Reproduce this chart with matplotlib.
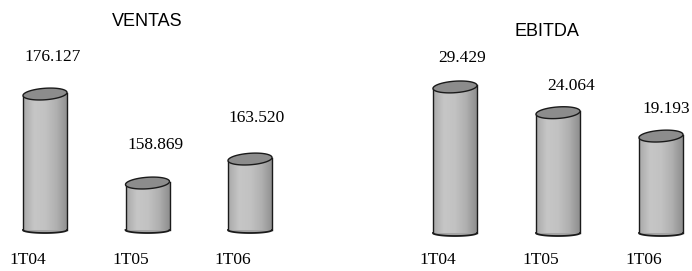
import numpy as np
import matplotlib
matplotlib.use("Agg")
import matplotlib.pyplot as plt
from matplotlib.colors import LinearSegmentedColormap

# ---- data ----
categories = ["1T04", "1T05", "1T06"]
ventas = [176.127, 158.869, 163.520]
ebitda = [29.429, 24.064, 19.193]
ventas_labels = ["176.127", "158.869", "163.520"]
ebitda_labels = ["29.429", "24.064", "19.193"]

# ---- layout (pixels) ----
W, H = 692, 271
fig = plt.figure(figsize=(W / 100, H / 100), dpi=100)
fig.patch.set_facecolor("white")

body_cmap = LinearSegmentedColormap.from_list(
    "cyl", ["#a9a9a9", "#c6c6c6", "#c2c2c2", "#b0b0b0", "#8e8e8e"])
EDGE = "#1a1a1a"
TOP = "#8c8c8c"
SERIF = ["Liberation Serif", "DejaVu Serif"]
SANS = ["Liberation Sans", "DejaVu Sans"]


def px2pt(px):
    return px * 72 / 100


def panel(left_px, vals, labels, title, title_xy, c0_px, spacing_px,
          base_row, ppu, floor, lab_off, cat_dx):
    ax = fig.add_axes([left_px / W, 0, 346 / W, 1])
    ax.axis("off")
    c0 = c0_px - left_px
    xlim = (-c0 / spacing_px, (346 - c0) / spacing_px)
    ylim = (floor - (H - base_row) / ppu, floor + base_row / ppu)
    x = np.arange(len(vals))
    bw = 44 / spacing_px
    eh = 11.5 / ppu        # top ellipse height in data units
    bh = 6 / ppu           # bottom curve height
    tilt = 3 / ppu         # rise across the top ellipse

    heights = [v - floor for v in vals]
    bars = ax.bar(x, heights, bottom=floor, width=bw, color="none",
                  edgecolor="none", zorder=2)
    grad = np.linspace(0, 1, 200).reshape(1, -1)
    t = np.linspace(0, 2 * np.pi, 200)
    tb = np.linspace(np.pi, 2 * np.pi, 100)
    for xi, v, b in zip(x, vals, bars):
        im = ax.imshow(grad, cmap=body_cmap, aspect="auto",
                       extent=[xi - bw / 2, xi + bw / 2, floor, v],
                       zorder=2, interpolation="bilinear")
        im.set_clip_path(b)
        # bottom curve
        bx = xi + bw / 2 * np.cos(tb)
        by = floor + bh / 2 * np.sin(tb)
        ax.fill(np.r_[bx, bx[::-1]], np.r_[by, np.full_like(by, floor)],
                color="#a4a4a4", zorder=2, lw=0)
        ax.plot(bx, by, color=EDGE, lw=1.3, zorder=3)
        # sides
        ax.plot([xi - bw / 2] * 2, [floor, v - tilt / 2], color=EDGE,
                lw=1.0, zorder=3)
        ax.plot([xi + bw / 2] * 2, [floor, v + tilt / 2], color=EDGE,
                lw=1.0, zorder=3)
        # top ellipse (slightly tilted)
        c = np.cos(t)
        tx = xi + bw / 2 * c
        ty = v + eh / 2 * np.sin(t) + tilt / 2 * c
        ax.fill(tx, ty, facecolor=TOP, edgecolor=EDGE, lw=1.0, zorder=4)

    for xi, v, lab, (dx, dy) in zip(x, vals, labels, lab_off):
        ax.annotate(lab, (xi, v), xytext=(px2pt(dx), px2pt(dy)),
                    textcoords="offset points", ha="center", va="center",
                    fontsize=12.5, family=SERIF, color="black")
    for xi, cat in zip(x, categories):
        ax.annotate(cat, (xi, floor), xytext=(px2pt(cat_dx), px2pt(-(260 - base_row))),
                    textcoords="offset points", ha="center", va="center",
                    fontsize=12.5, family=SERIF, color="black")
    fig.text(title_xy[0] / W, 1 - title_xy[1] / H, title, ha="center",
             va="center", fontsize=13, family=SANS, color="black")
    ax.set_xlim(*xlim)
    ax.set_ylim(*ylim)
    return ax


panel(0, ventas, ventas_labels, "VENTAS", (147, 21), 45, 102.5,
      230, 5.157, 149.76, [(8, 37), (8, 38), (7, 41)], -17)
panel(346, ebitda, ebitda_labels, "EBITDA", (547, 32), 455, 103,
      233, 4.8, -1.0, [(7, 29), (13, 27), (5, 27)], -17)

fig.savefig("out.png", dpi=100, facecolor="white")
